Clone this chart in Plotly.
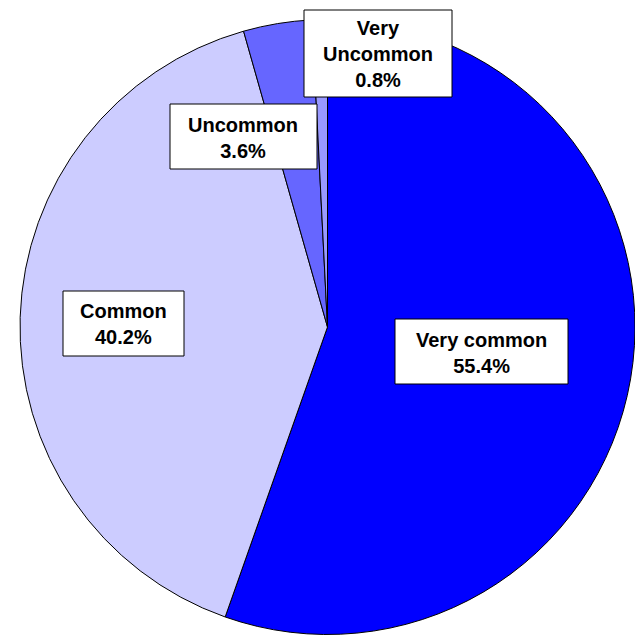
import plotly.graph_objects as go

# ---- data ----
categories = ["Very common", "Common", "Uncommon", "Very Uncommon"]
percentages = [55.4, 40.2, 3.6, 0.8]
label_texts = ["Very common<br>55.4%", "Common<br>40.2%", "Uncommon<br>3.6%", "Very<br>Uncommon<br>0.8%"]

# ---- styles / layout ----
slice_colors = ["#0000FF", "#CCCCFF", "#6666FF", "#9999FF"]
W, H = 635, 637
# label boxes in pixel coordinates (x0, y0, x1, y1)
label_boxes = [(395, 319, 568, 384), (63, 291, 184, 356), (170, 104, 317, 169), (304, 10, 452, 97)]
FONT = "Liberation Sans, Arial, sans-serif"
FONT_SIZE = 20

fig = go.Figure()
fig.add_trace(go.Pie(
    labels=categories,
    values=percentages,
    sort=False,
    direction="clockwise",
    rotation=0,
    textinfo="none",
    hoverinfo="label+percent",
    marker=dict(colors=slice_colors, line=dict(color="black", width=1)),
    domain=dict(x=[20 / W, 1.0], y=[0.0, 1 - 17 / H]),
    showlegend=False,
))

def px2x(v):
    return v / W

def px2y(v):
    return 1 - v / H

shapes = []
annotations = []
for box, txt in zip(label_boxes, label_texts):
    x0, y0, x1, y1 = box
    shapes.append(dict(type="rect", xref="paper", yref="paper",
                       x0=px2x(x0), x1=px2x(x1), y0=px2y(y0), y1=px2y(y1),
                       fillcolor="white", line=dict(color="black", width=1), layer="above"))
    cx = (x0 + x1) / 2
    cy = (y0 + y1) / 2 + 1
    annotations.append(dict(text="<b>%s</b>" % txt, x=px2x(cx), y=px2y(cy),
                            xref="paper", yref="paper", xanchor="center", yanchor="middle",
                            showarrow=False, align="center",
                            font=dict(family=FONT, size=FONT_SIZE, color="black")))

fig.update_layout(
    width=W, height=H,
    margin=dict(l=0, r=0, t=0, b=0),
    paper_bgcolor="white", plot_bgcolor="white",
    shapes=shapes, annotations=annotations,
)

fig.write_html("out.html", config={"displayModeBar": False},
               post_script="document.body.style.margin='0';document.body.style.overflow='hidden';")
